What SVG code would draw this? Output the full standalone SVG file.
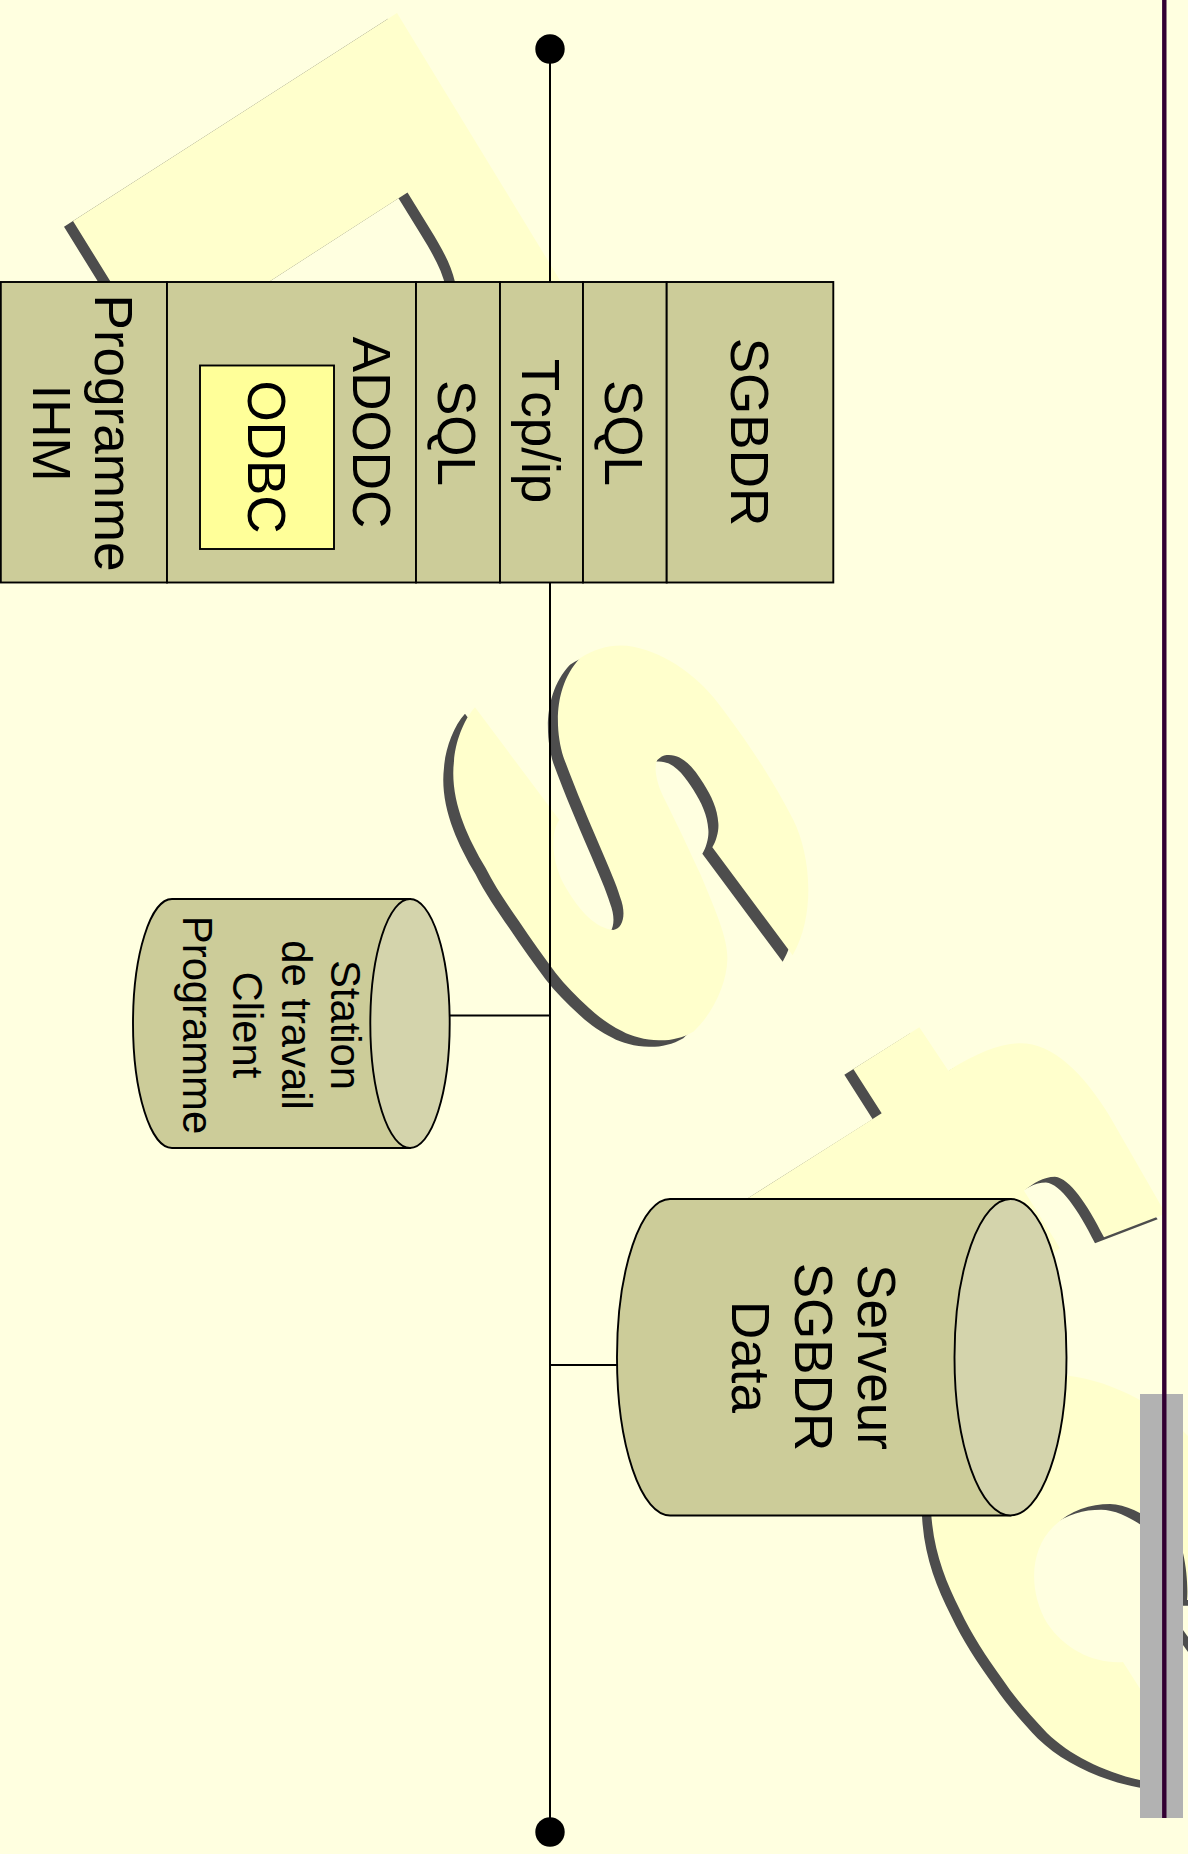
<svg xmlns="http://www.w3.org/2000/svg" width="1188" height="1854" viewBox="0 0 1188 1854">
<style>
text{font-family:"Liberation Sans",Arial,sans-serif;fill:#000;text-anchor:middle;font-kerning:none}
.s52{font-size:53px}.s41{font-size:41.8px}
.box{fill:#CCCC99;stroke:#000;stroke-width:1.9}
.lid{fill:#D4D4AC;stroke:#000;stroke-width:1.9}
.ln{fill:none;stroke:#000;stroke-width:2}
.dot{fill:#000}
</style>
<defs>
<g id="wmF"><path d="M397,13 L73,221 L125,305 L250,294 L407.5,192.5 L430,229 C443,250 451,265 455,282 L458,300 L575,305 Z"/></g>
<g id="wmS" transform="translate(400,620) scale(0.33333)"><path d="M225,262 L478,600 C450,640 455,720 490,790 C540,880 590,925 640,930 C670,925 680,880 660,830 C640,760 560,600 490,410 C465,330 460,200 540,115 C590,80 650,70 700,80 C800,100 900,170 970,270 C1060,390 1130,500 1180,600 C1230,700 1250,880 1178,1006 L937,682 C950,660 957,630 955,610 C952,565 935,530 910,490 C885,450 850,400 800,405 C790,406 780,412 772,420 C760,440 770,490 790,530 C820,590 850,650 900,760 C950,880 985,960 982,1020 C980,1090 940,1180 880,1235 C847,1254 810,1262 777,1261 C735,1260 695,1250 667,1234 C630,1215 600,1195 567,1164 C530,1130 495,1095 467,1059 C430,1010 395,960 357,904 C320,850 285,800 257,744 C230,700 205,650 190,610 C165,545 155,480 162,424 C165,370 190,300 225,262 Z"/></g>
<g id="wmT" transform="translate(800,1000) scale(0.33333)"><path d="M358,82 L445,212 C530,160 600,130 660,130 C760,130 850,220 930,350 L1085,620 L1100,640 L912,712 C860,610 810,535 765,530 C730,530 700,550 672,572 L780,745 L700,800 L-200,622 L245,340 L160,207 Z"/></g>
<g id="wmE"><path d="M931,1510 C930,1440 980,1370 1060,1375 C1110,1378 1170,1410 1200,1450 L1200,1600 L1187,1600 C1188,1590 1187,1570 1183,1553 C1170,1530 1135,1504 1110,1504 C1090,1504 1070,1510 1053,1527 C1030,1550 1028,1590 1047,1623 C1065,1650 1095,1664 1123,1662 L1160,1720 L1170,1785 C1120,1780 1075,1760 1047,1733 C1030,1715 1015,1698 1003,1680 C985,1655 972,1635 960,1610 C945,1580 933,1550 931,1510 Z"/></g>
</defs>
<rect id="background" width="1188" height="1854" fill="#FFFFE0"/>
<g id="watermark">
<g fill="#4D4D4D" transform="translate(-9,5.8)">
<use href="#wmF"/><use href="#wmT"/><use href="#wmE"/>
</g>
<g fill="#4D4D4D" transform="translate(-10,6.5)"><use href="#wmS"/></g>
<polygon fill="#4D4D4D" points="1183,1630 1188,1637 1188,1652 1183,1645"/>
<g fill="#FFFFCC">
<use href="#wmF"/><use href="#wmS"/><use href="#wmT"/><use href="#wmE"/>
</g>
</g>
<g id="connectors">
<path class="ln" d="M550,49 V1832"/>
<path class="ln" d="M450,1015.5 H550"/>
<path class="ln" d="M550,1365 H617"/>
</g>
<circle id="bus-top" class="dot" cx="550" cy="49" r="14.7"/>
<circle id="bus-bottom" class="dot" cx="550" cy="1832" r="14.7"/>
<g id="programme-ihm">
<rect class="box" x="0.8" y="282" width="166.2" height="300.5"/>
<text class="s52" transform="translate(95,433) rotate(90)">Programme</text>
<text class="s52" transform="translate(32.5,433) rotate(90)">IHM</text>
</g>
<g id="adodc">
<rect class="box" x="167" y="282" width="249" height="300.5"/>
<text class="s52" transform="translate(353,432.5) rotate(90)">ADODC</text>
</g>
<g id="odbc">
<rect x="200" y="365.5" width="134" height="183.5" fill="#FFFF99" stroke="#000" stroke-width="1.9"/>
<text class="s52" transform="translate(247.5,457) rotate(90)">ODBC</text>
</g>
<g id="sql-client">
<rect class="box" x="416" y="282" width="84" height="300.5"/>
<text class="s52" transform="translate(438,433) rotate(90)">SQL</text>
</g>
<g id="tcpip">
<rect class="box" x="500" y="282" width="83" height="300.5"/>
<text class="s52" transform="translate(521.5,431) rotate(90)">Tcp/ip</text>
</g>
<g id="sql-server">
<rect class="box" x="583" y="282" width="83.7" height="300.5"/>
<text class="s52" transform="translate(605,433) rotate(90)">SQL</text>
</g>
<g id="sgbdr">
<rect class="box" x="666.7" y="282" width="166.6" height="300.5"/>
<text class="s52" transform="translate(730.5,432) rotate(90)">SGBDR</text>
</g>
<g id="station">
<path class="box" d="M410,899 H172 A39,124.5 0 0 0 172,1148 H410 Z"/>
<ellipse class="lid" cx="410" cy="1023.5" rx="39.7" ry="124.5"/>
<text class="s41" transform="translate(331,1025) rotate(90)">Station</text>
<text class="s41" transform="translate(282,1025) rotate(90)">de travail</text>
<text class="s41" transform="translate(233,1025) rotate(90)">Client</text>
<text class="s41" transform="translate(183,1025) rotate(90)">Programme</text>
</g>
<g id="serveur">
<path class="box" d="M1010.5,1199 H670 A53,158.2 0 0 0 670,1515.5 H1010.5 Z"/>
<ellipse class="lid" cx="1010.5" cy="1357.2" rx="56" ry="158.2"/>
<text class="s52" transform="translate(858,1357) rotate(90)">Serveur</text>
<text class="s52" transform="translate(795,1357) rotate(90)">SGBDR</text>
<text class="s52" transform="translate(732,1357) rotate(90)">Data</text>
</g>
<rect id="gray-bar" x="1140" y="1394" width="43" height="424" fill="#B2B2B2"/>
<line id="edge-line" x1="1164.3" y1="0" x2="1164.3" y2="1818" stroke="#330033" stroke-width="4.4"/>
</svg>
